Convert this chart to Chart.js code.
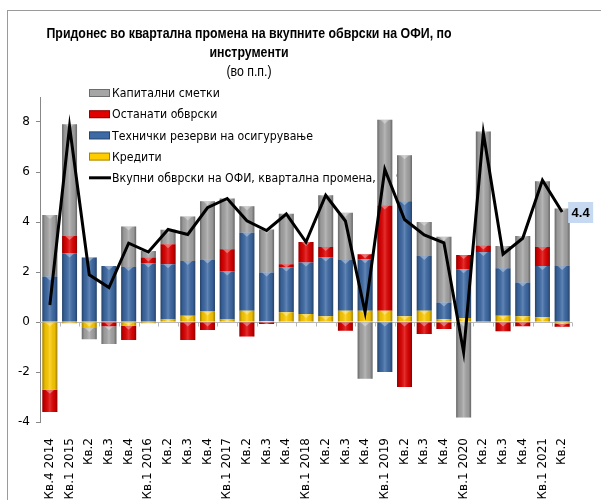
<!DOCTYPE html>
<html><head><meta charset="utf-8">
<script src="https://cdn.jsdelivr.net/npm/chart.js@4.4.0/dist/chart.umd.min.js"></script>
<style>
html,body{margin:0;padding:0;background:#fff;}
#wrap{position:relative;width:601px;height:500px;overflow:hidden;}
#frame{position:absolute;left:7px;top:10px;width:700px;height:600px;border-left:1.5px solid #9a9a9a;border-top:1.5px solid #9a9a9a;}
canvas{position:absolute;left:0;top:0;}
</style></head><body>
<div id="wrap"><div id="frame"></div><canvas id="c" width="601" height="500"></canvas></div>
<script>
const categories = ['Кв.4 2014','Кв.1 2015','Кв.2','Кв.3','Кв.4','Кв.1 2016','Кв.2','Кв.3','Кв.4','Кв.1 2017','Кв.2','Кв.3','Кв.4','Кв.1 2018','Кв.2','Кв.3','Кв.4','Кв.1 2019','Кв.2','Кв.3','Кв.4','Кв.1 2020','Кв.2','Кв.3','Кв.4','Кв.1 2021','Кв.2'];
const krediti   = [-2.71,-0.05,-0.24,0,-0.15,-0.05,0.10,0.25,0.42,0.10,0.45,0.04,0.39,0.32,0.23,0.45,0.45,0.45,0.23,0.45,0.12,0.16,0.02,0.25,0.23,0.19,-0.08];
const tehnicki  = [1.82,2.74,2.58,2.24,2.20,2.34,2.21,2.19,2.08,1.92,3.12,1.94,1.79,2.06,2.35,2.03,2.06,-2.00,4.60,2.19,0.66,1.95,2.78,1.90,1.35,2.05,2.24];
const ostanati  = [-0.89,0.70,0,-0.17,-0.57,0.24,0.80,-0.72,-0.32,0.89,-0.58,-0.08,0.13,0.82,0.42,-0.35,0.20,4.21,-2.60,-0.48,-0.28,0.57,0.26,-0.37,-0.17,0.76,-0.11];
const kapitalni = [2.46,4.47,-0.45,-0.71,1.62,0.26,0.58,1.78,2.33,2.03,1.06,1.72,2.02,0,2.07,1.89,-2.27,3.43,1.84,1.36,2.63,-3.82,4.56,0.89,1.86,2.63,2.30];
const vkupni    = [0.68,7.82,1.89,1.38,3.15,2.80,3.70,3.50,4.57,4.94,4.05,3.66,4.32,3.20,5.07,4.04,0.39,6.10,4.10,3.48,3.17,-1.21,7.56,2.71,3.35,5.67,4.40];
const yTicks = [-4,-2,0,2,4,6,8];

const titleLines = ['Придонес во квартална промена на вкупните обврски на ОФИ, по','инструменти'];
const subTitle = '(во п.п.)';
const legendItems = [
  {label:'Капитални сметки', color:'#a6a6a6', type:'box'},
  {label:'Останати обврски', color:'#e00000', type:'box'},
  {label:'Технички резерви на осигурување', color:'#3d6aa6', type:'box'},
  {label:'Кредити', color:'#ffcc00', type:'box'},
  {label:'Вкупни обврски на ОФИ, квартална промена, во %', color:'#000', type:'line'}
];

const decor = {
  id:'decor',
  beforeDraw(chart){
    const c = chart.ctx;
    c.save();
    c.fillStyle='#000'; c.textAlign='center'; c.textBaseline='middle';
    c.font='bold 15px "Liberation Sans", Arial, sans-serif';
    const sx = Math.min(1, 405 / c.measureText(titleLines[0]).width);
    c.translate(249,0); c.scale(sx,1);
    c.fillText(titleLines[0], 0, 34);
    c.fillText(titleLines[1], 0, 53);
    c.font='15px "Liberation Sans", Arial, sans-serif';
    c.fillText(subTitle, 0, 72);
    c.restore();
  },
  beforeDatasetsDraw(chart){
    const c = chart.ctx, xs = chart.scales.x, ys = chart.scales.y, a = chart.chartArea;
    c.save();
    const y0 = Math.round(ys.getPixelForValue(0))+0.5;
    c.strokeStyle='#b8b8b8'; c.lineWidth=1;
    c.beginPath(); c.moveTo(a.left,y0); c.lineTo(a.right,y0); c.stroke();
    const n = categories.length, step=(a.right-a.left)/n;
    c.beginPath();
    for(let i=1;i<=n;i++){const x=Math.round(a.left+i*step)+0.5; c.moveTo(x,y0); c.lineTo(x,y0+4);}
    c.stroke();
    // legend
    c.font='12.2px "DejaVu Sans Condensed", sans-serif';
    c.textBaseline='middle'; c.textAlign='left';
    legendItems.forEach((it,i)=>{
      const y = 93 + i*21.2;
      if(it.type==='box'){
        c.fillStyle=it.color; c.fillRect(89,y-4,21,8);
        c.strokeStyle='rgba(0,0,0,0.35)'; c.strokeRect(89.5,y-3.5,20,7);
      } else {
        c.strokeStyle='#000'; c.lineWidth=3; c.beginPath(); c.moveTo(89,y); c.lineTo(111,y); c.stroke();
      }
      c.fillStyle='#000'; c.fillText(it.label,112,y+1);
    });
    c.restore();
  },
  afterDatasetDraw(chart,args){
    const meta=args.meta; if(meta.type!=='bar') return;
    const c=chart.ctx; c.save();
    meta.data.forEach(el=>{
      const p=el.getProps(['x','y','base','width'],true);
      const top=Math.min(p.y,p.base), h=Math.abs(p.base-p.y);
      if(h<0.5) return;
      const l=p.x-p.width/2;
      const g=c.createLinearGradient(l,0,l+p.width,0);
      g.addColorStop(0,'rgba(0,0,0,0.38)');
      g.addColorStop(0.18,'rgba(0,0,0,0.08)');
      g.addColorStop(0.5,'rgba(255,255,255,0.18)');
      g.addColorStop(0.82,'rgba(0,0,0,0.08)');
      g.addColorStop(1,'rgba(0,0,0,0.38)');
      c.fillStyle=g; c.fillRect(l,top,p.width,h);
      const bh=Math.min(4,h);
      c.fillStyle='rgba(255,255,255,0.35)';
      c.beginPath(); c.moveTo(l+3,top); c.lineTo(l+p.width-3,top); c.lineTo(p.x,top+bh); c.closePath(); c.fill();
    });
    c.restore();
  },
  afterDraw(chart){
    const meta=chart.getDatasetMeta(4); const last=meta.data[meta.data.length-1];
    const c=chart.ctx; c.save();
    const bx=last.x+6, by=last.y-10;
    c.fillStyle='#c6d9f0'; c.fillRect(bx,by,25,21);
    c.fillStyle='#000'; c.font='bold 13px "Liberation Sans", sans-serif';
    c.textAlign='center'; c.textBaseline='middle';
    c.fillText(vkupni[vkupni.length-1].toFixed(1), bx+12.5, by+11);
    c.restore();
  }
};

const barDs = (label,data,color,border)=>({type:'bar',label,data,backgroundColor:color,borderColor:border,borderWidth:0,order:1,barPercentage:0.76,categoryPercentage:1});

new Chart(document.getElementById('c'),{
  data:{labels:categories,datasets:[
    barDs('Кредити',krediti,'#ffcc00'),
    barDs('Технички резерви на осигурување',tehnicki,'#3d6aa6'),
    barDs('Останати обврски',ostanati,'#e00000'),
    barDs('Капитални сметки',kapitalni,'#a6a6a6'),
    {type:'line',label:'Вкупни обврски на ОФИ, квартална промена, во %',data:vkupni,borderColor:'#000',borderWidth:3,pointRadius:0,tension:0,order:0,fill:false}
  ]},
  options:{
    responsive:false, animation:false, devicePixelRatio:1,
    layout:{padding:{top:97,right:29,left:0,bottom:0}},
    plugins:{legend:{display:false},title:{display:false},tooltip:{enabled:false}},
    scales:{
      x:{stacked:true,grid:{display:false},border:{display:false},
         ticks:{autoSkip:false,maxRotation:90,minRotation:90,padding:8,color:'#000',font:{family:'DejaVu Sans',size:12}},
         afterFit(s){s.height=78;}},
      y:{stacked:true,min:-4,max:9,
         afterBuildTicks(s){s.ticks=yTicks.map(v=>({value:v}));},
         ticks:{color:'#000',padding:6,font:{family:'DejaVu Sans',size:12}},
         grid:{drawOnChartArea:false,tickLength:4,color:'#888'},
         border:{color:'#888'},
         afterFit(s){s.width=40;}}
    }
  },
  plugins:[decor]
});
</script>
</body></html>
